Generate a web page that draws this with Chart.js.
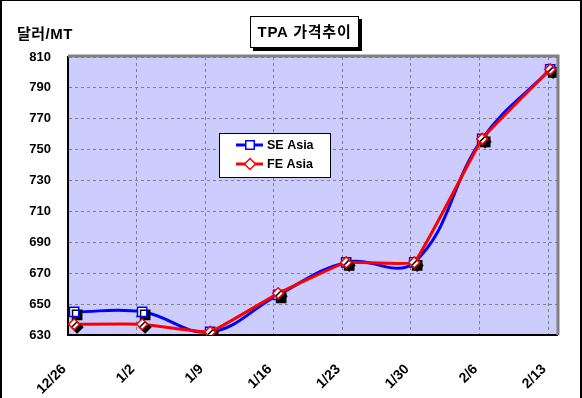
<!DOCTYPE html>
<html>
<head>
<meta charset="utf-8">
<script src="https://cdn.jsdelivr.net/npm/chart.js@4/dist/chart.umd.min.js"></script>
<style>
  html, body { margin: 0; padding: 0; background: #fff; }
  #wrap { position: relative; width: 582px; height: 398px; overflow: hidden; }
  canvas { position: absolute; left: 0; top: 0; }
  #frame { position: absolute; left: 0; top: 0; width: 582px; height: 398px; box-sizing: border-box;
           border-left: 2px solid #000; border-top: 1px solid #000; border-right: 2px solid #000; pointer-events: none; }
  .txt { position: absolute; font-family: "Liberation Sans", Arial, "Noto Sans CJK KR", sans-serif; font-weight: bold; color: #000; white-space: nowrap; }
  #unit { left: 17px; top: 22px; font-size: 15px; letter-spacing: 0.5px; }
  #title { left: 250px; top: 16px; width: 107px; height: 30px; border: 1px solid #000; background: #fff;
           box-shadow: 3px 3px 0 #000; font-size: 15px; letter-spacing: 0.8px; line-height: 30px; text-align: center; }
</style>
</head>
<body>
<div id="wrap">
  <canvas id="c" width="582" height="398"></canvas>
  <div id="frame"></div>
  <div class="txt" id="unit">달러/MT</div>
  <div class="txt" id="title">TPA 가격추이</div>
</div>
<script>
const categories = ["12/26", "1/2", "1/9", "1/16", "1/23", "1/30", "2/6", "2/13"];
const seAsia = [645, 645, 632, 656, 677, 677, 757, 802];
const feAsia = [637, 637, 632, 657, 677, 677, 757, 802];
const yTicks = [630, 650, 670, 690, 710, 730, 750, 770, 790, 810];
const seriesNames = ["SE Asia", "FE Asia"];

const FONT = '"Liberation Sans", Arial, "Noto Sans CJK KR", sans-serif';
const toXY = arr => arr.map((v, i) => ({ x: i, y: v }));

const bgPlugin = {
  id: 'plotbg',
  beforeDraw(chart) {
    const { ctx, chartArea: a } = chart;
    ctx.save();
    ctx.fillStyle = '#CCCCFF';
    ctx.fillRect(a.left, a.top, a.right - a.left, a.bottom - a.top);
    ctx.restore();
  },
  afterDatasetsDraw(chart) {
    const { ctx, chartArea: a } = chart;
    ctx.save();
    ctx.strokeStyle = '#808080';
    ctx.lineWidth = 3;
    ctx.beginPath();
    ctx.moveTo(a.left, a.top - 1);
    ctx.lineTo(a.right + 1, a.top - 1);
    ctx.lineTo(a.right + 1, a.bottom);
    ctx.stroke();
    ctx.restore();
  }
};

const shadowPlugin = {
  id: 'markerShadow',
  beforeDatasetDraw(chart, args) {
    const ds = chart.data.datasets[args.index];
    if (ds.shadow) {
      const ctx = chart.ctx;
      ctx.save();
      ctx.shadowColor = '#000';
      ctx.shadowBlur = 0;
      ctx.shadowOffsetX = 3;
      ctx.shadowOffsetY = 3;
    }
  },
  afterDatasetDraw(chart, args) {
    const ds = chart.data.datasets[args.index];
    if (ds.shadow) chart.ctx.restore();
  }
};

const legendPlugin = {
  id: 'boxLegend',
  afterDraw(chart) {
    const ctx = chart.ctx;
    const x = 219, y = 133, w = 111, h = 44;
    ctx.save();
    ctx.fillStyle = '#fff';
    ctx.fillRect(x, y, w, h);
    ctx.strokeStyle = '#000';
    ctx.lineWidth = 1;
    ctx.strokeRect(x + 0.5, y + 0.5, w, h);
    const items = [
      { name: seriesNames[0], color: '#0000FF', style: 'rect' },
      { name: seriesNames[1], color: '#FF0000', style: 'rectRot' }
    ];
    items.forEach((it, k) => {
      const cy = y + 12 + k * 19;
      ctx.strokeStyle = it.color;
      ctx.lineWidth = 3;
      ctx.beginPath();
      ctx.moveTo(236, cy);
      ctx.lineTo(263, cy);
      ctx.stroke();
      ctx.fillStyle = '#fff';
      ctx.lineWidth = 1.5;
      ctx.strokeStyle = it.color;
      Chart.helpers.drawPoint(ctx, { pointStyle: it.style, radius: it.style === 'rect' ? 6 : 5.5, borderWidth: 1.5 }, 250, cy);
      ctx.fillStyle = '#000';
      ctx.font = 'bold 12.5px ' + FONT;
      ctx.textBaseline = 'middle';
      ctx.textAlign = 'left';
      ctx.fillText(it.name, 267, cy + 1);
    });
    ctx.restore();
  }
};

new Chart(document.getElementById('c'), {
  type: 'line',
  data: {
    datasets: [
      { label: seriesNames[1] + ' pts', data: toXY(feAsia), xAxisID: 'x2', showLine: false, shadow: true,
        pointStyle: 'rectRot', pointRadius: 5.5, pointBackgroundColor: '#fff', pointBorderColor: '#FF0000', pointBorderWidth: 1.5, order: 1 },
      { label: seriesNames[1], data: toXY(feAsia), xAxisID: 'x2', borderColor: '#FF0000', borderWidth: 3,
        tension: 0.08, pointRadius: 0, fill: false, order: 2 },
      { label: seriesNames[0] + ' pts', data: toXY(seAsia), xAxisID: 'x2', showLine: false, shadow: true,
        pointStyle: 'rect', pointRadius: 6.5, pointBackgroundColor: '#fff', pointBorderColor: '#0000FF', pointBorderWidth: 1.5, order: 3 },
      { label: seriesNames[0], data: toXY(seAsia), xAxisID: 'x2', borderColor: '#0000FF', borderWidth: 3,
        tension: 0.4, pointRadius: 0, fill: false, order: 4 }
    ]
  },
  options: {
    responsive: false,
    animation: false,
    events: [],
    layout: { padding: { left: 0, top: 57, right: 25, bottom: 0 } },
    plugins: { legend: { display: false }, title: { display: false }, tooltip: { enabled: false } },
    scales: {
      x: {
        type: 'linear', position: 'bottom', min: 0, max: 7.13,
        afterBuildTicks(scale) { scale.ticks = categories.map((c, i) => ({ value: i })); },
        afterFit(scale) { scale.height = 63; scale.paddingLeft = 0; scale.paddingRight = 0; },
        grid: { color: '#808080', lineWidth: 1, drawTicks: false },
        border: { display: true, color: '#000', width: 2, dash: [3, 3] },
        ticks: {
          autoSkip: false, minRotation: 45, maxRotation: 45, padding: 26, labelOffset: -4, color: '#000',
          font: { family: FONT, size: 14, weight: 'bold' },
          callback: v => categories[v]
        }
      },
      x2: { type: 'linear', display: false, min: -0.09, max: 7.10 },
      y: {
        type: 'linear', min: 630, max: 810,
        afterBuildTicks(scale) { scale.ticks = yTicks.map(v => ({ value: v })); },
        afterFit(scale) { scale.width = 68; scale.paddingTop = 0; scale.paddingBottom = 0; },
        grid: { color: '#808080', lineWidth: 1, drawTicks: false },
        border: { display: true, color: '#000', width: 2, dash: [3, 3] },
        ticks: { padding: 17, color: '#000', font: { family: FONT, size: 13, weight: 'bold' } }
      }
    }
  },
  plugins: [bgPlugin, shadowPlugin, legendPlugin]
});
</script>
</body>
</html>
